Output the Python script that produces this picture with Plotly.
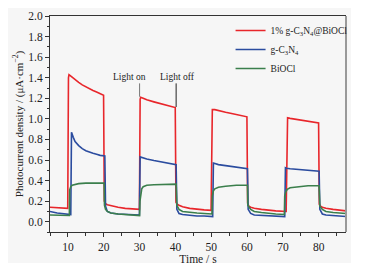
import plotly.graph_objects as go

# ---- data ----
t_red = [5, 7, 9.95, 10.15, 10.3, 11, 12, 13, 14, 15, 16, 17, 18, 19, 19.95,
         20.15, 20.5, 21, 22, 24, 26, 28, 29.95,
         30.15, 30.3, 31, 32, 34, 36, 38, 39.95,
         40.15, 40.5, 41, 42, 44, 46, 48, 49.95,
         50.15, 50.3, 51, 52, 54, 56, 58, 59.95,
         60.15, 60.5, 61, 62, 64, 66, 68, 70.9,
         71.1, 71.3, 72, 74, 76, 78, 79.95,
         80.15, 80.5, 81, 82, 84, 86, 87.6]
v_red = [0.14, 0.135, 0.13, 1.40, 1.43, 1.41, 1.38, 1.355, 1.33, 1.31, 1.29, 1.275, 1.26, 1.245, 1.23,
         0.20, 0.175, 0.165, 0.155, 0.14, 0.13, 0.125, 0.12,
         1.19, 1.21, 1.20, 1.185, 1.165, 1.145, 1.125, 1.11,
         0.19, 0.17, 0.16, 0.145, 0.13, 0.12, 0.115, 0.11,
         1.07, 1.09, 1.09, 1.08, 1.065, 1.05, 1.035, 1.02,
         0.18, 0.15, 0.14, 0.13, 0.12, 0.11, 0.105, 0.10,
         0.99, 1.01, 1.005, 0.995, 0.985, 0.97, 0.96,
         0.17, 0.15, 0.14, 0.13, 0.12, 0.11, 0.105]

t_blue = [5, 7, 10.8,
          11.0, 11.5, 12, 13, 14, 15, 16, 17, 18, 19, 20.3,
          20.5, 21, 22, 24, 26, 28, 29.95,
          30.15, 31, 32, 34, 36, 38, 40.2,
          40.4, 41, 42, 44, 46, 48, 50.4,
          50.6, 51, 52, 54, 56, 58, 60.1,
          60.3, 61, 62, 64, 66, 68, 70.5,
          70.7, 71, 72, 74, 76, 78, 80.1,
          80.3, 81, 82, 84, 86, 87.6]
v_blue = [0.10, 0.085, 0.07,
          0.87, 0.82, 0.78, 0.74, 0.71, 0.69, 0.675, 0.665, 0.655, 0.645, 0.64,
          0.15, 0.10, 0.085, 0.075, 0.07, 0.065, 0.065,
          0.63, 0.62, 0.61, 0.595, 0.58, 0.57, 0.555,
          0.12, 0.08, 0.07, 0.06, 0.055, 0.055, 0.05,
          0.57, 0.565, 0.555, 0.545, 0.535, 0.525, 0.515,
          0.12, 0.08, 0.065, 0.06, 0.055, 0.05, 0.05,
          0.525, 0.52, 0.515, 0.51, 0.505, 0.495, 0.49,
          0.12, 0.075, 0.065, 0.06, 0.055, 0.05]

t_green = [5, 10.4,
           10.5, 10.8, 11.2, 12, 13, 15, 17, 20.1,
           20.2, 20.5, 21, 22, 24, 26, 28, 30.0,
           30.1, 30.3, 30.6, 31, 32, 34, 37, 40.2,
           40.4, 41, 42, 44, 46, 48, 50.2,
           50.3, 50.6, 51, 52, 54, 57, 60.1,
           60.2, 61, 62, 64, 66, 68, 70.4,
           70.5, 70.8, 71.2, 72, 74, 77, 80.1,
           80.3, 81, 82, 84, 86, 87.6]
v_green = [0.065, 0.06,
           0.31, 0.34, 0.355, 0.365, 0.37, 0.375, 0.375, 0.375,
           0.16, 0.12, 0.10, 0.085, 0.075, 0.07, 0.065, 0.06,
           0.20, 0.28, 0.32, 0.34, 0.355, 0.36, 0.365, 0.365,
           0.16, 0.12, 0.10, 0.09, 0.085, 0.08, 0.075,
           0.25, 0.30, 0.32, 0.335, 0.345, 0.355, 0.355,
           0.16, 0.12, 0.10, 0.09, 0.08, 0.075, 0.07,
           0.25, 0.29, 0.315, 0.33, 0.34, 0.35, 0.35,
           0.15, 0.12, 0.10, 0.09, 0.085, 0.08]

names = ["1% g-C<sub>3</sub>N<sub>4</sub>@BiOCl", "g-C<sub>3</sub>N<sub>4</sub>", "BiOCl"]
colors = ["#e8262b", "#2b4c9f", "#3b7f4c"]

x_ticks = [10, 20, 30, 40, 50, 60, 70, 80]
y_ticks = [0.0, 0.2, 0.4, 0.6, 0.8, 1.0, 1.2, 1.4, 1.6, 1.8, 2.0]

FONT = "Liberation Serif"

fig = go.Figure()
for t, v, n, c in zip([t_red, t_blue, t_green], [v_red, v_blue, v_green], names, colors):
    fig.add_trace(go.Scatter(x=t, y=v, mode="lines", name=n,
                             line=dict(color=c, width=1.6)))

bg = "#f6f6f6"
# the page body adds an 8px offset, so the figure is 359x262 with margins shifted
fig.update_layout(
    width=359, height=262,
    margin=dict(l=42, r=21, t=8, b=38, autoexpand=False),
    paper_bgcolor="white", plot_bgcolor=bg,
    font=dict(family=FONT, size=11.5, color="#222"),
    showlegend=True,
    legend=dict(x=0.61, y=1.0, xanchor="left", yanchor="top",
                bgcolor="rgba(0,0,0,0)", font=dict(family=FONT, size=9.5),
                tracegroupgap=0, itemwidth=30),
    xaxis=dict(range=[5, 87.6], tickmode="array", tickvals=x_ticks,
               ticks="outside", ticklen=4, tickcolor="#333",
               minor=dict(ticks="outside", dtick=5, tick0=5, ticklen=2.5, tickcolor="#333"),
               showline=True, linecolor="#333", linewidth=1, mirror=True,
               showgrid=False, zeroline=False, automargin=False,
               title=dict(text="Time / s", font=dict(size=11.5), standoff=1)),
    yaxis=dict(range=[-0.1, 2.0], tickmode="array", tickvals=y_ticks,
               tickformat=".1f",
               ticks="outside", ticklen=4, tickcolor="#333",
               minor=dict(ticks="outside", dtick=0.1, tick0=0, ticklen=2.5, tickcolor="#333"),
               showline=True, linecolor="#333", linewidth=1, mirror=False,
               showgrid=False, zeroline=False, automargin=False,
               title=dict(text="Photocurrent density / (μA·cm<sup>−2</sup>)",
                          font=dict(size=11), standoff=2)),
)

# light gray background panel behind the figure
fig.add_shape(type="rect", xref="paper", yref="paper",
              x0=-0.142, x1=1.017, y0=-0.1435, y1=1.051,
              fillcolor=bg, line=dict(width=0), layer="below")
# right border (gray)
fig.add_shape(type="line", xref="paper", yref="paper", x0=1, x1=1, y0=0, y1=1,
              line=dict(color="#999", width=2))

# annotations: Light on / Light off
fig.add_annotation(x=27.1, y=1.41, text="Light on", showarrow=False,
                   font=dict(family=FONT, size=9.5, color="#222"))
fig.add_annotation(x=40.6, y=1.41, text="Light off", showarrow=False,
                   font=dict(family=FONT, size=9.5, color="#222"))
fig.add_shape(type="line", x0=30.0, x1=30.0, y0=1.345, y1=1.215,
              line=dict(color="#777", width=1))
fig.add_shape(type="line", x0=40.2, x1=40.2, y0=1.345, y1=1.115,
              line=dict(color="#222", width=1))

fig.write_html("out.html")
